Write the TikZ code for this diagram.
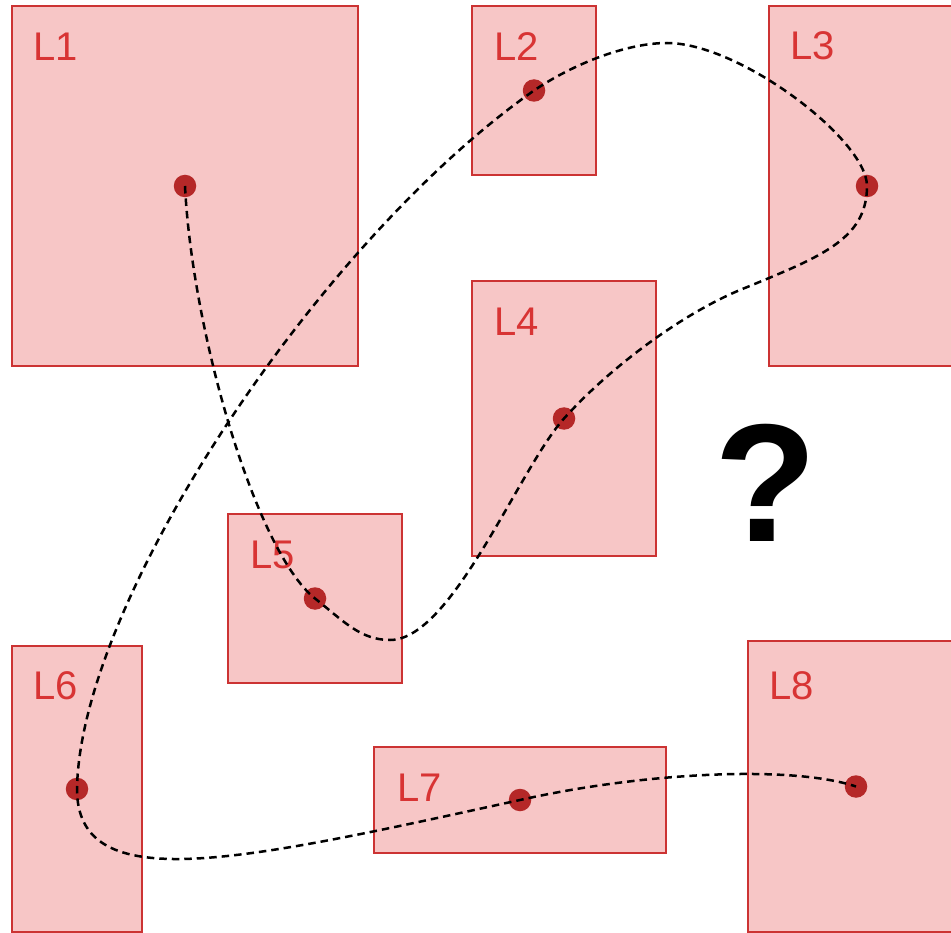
\documentclass[tikz,border=0pt]{standalone}
\usepackage{fontspec}
\setmainfont{Liberation Sans}
\definecolor{boxfill}{HTML}{F7C6C6}
\definecolor{boxline}{HTML}{CC3333}
\definecolor{labred}{HTML}{D83434}
\definecolor{dotred}{HTML}{B52828}
\begin{document}
\begin{tikzpicture}[x=1pt,y=-1pt,
  region/.style={draw=boxline, fill=boxfill, line width=1.9pt, inner sep=0pt, outer sep=0pt},
  lab/.style={anchor=base west, inner sep=0pt, text=labred, font=\fontsize{40}{40}\selectfont},
  pt/.style={circle, fill=dotred, inner sep=0pt, minimum size=22.5pt},
  route/.style={draw=black, line width=2.5pt, dash pattern=on 7.5pt off 5pt}]
\useasboundingbox (0,0) rectangle (951,933);
\clip (0,0) rectangle (951,933);
% regions
\node[region, minimum width=346pt, minimum height=360pt] (r1) at (185,186) {};
\node[region, minimum width=124pt, minimum height=169pt] (r2) at (534,90.5) {};
\node[region, minimum width=196pt, minimum height=360pt] (r3) at (867,186) {};
\node[region, minimum width=184pt, minimum height=275pt] (r4) at (564,418.5) {};
\node[region, minimum width=174pt, minimum height=169pt] (r5) at (315,598.5) {};
\node[region, minimum width=130pt, minimum height=286pt] (r6) at (77,789) {};
\node[region, minimum width=292pt, minimum height=106pt] (r7) at (520,800) {};
\node[region, minimum width=216pt, minimum height=291pt] (r8) at (856,786.5) {};
% labels
\node[lab] (t1) at ([shift={(21,55)}]r1.north west) {L1};
\node[lab] (t2) at ([shift={(22,55)}]r2.north west) {L2};
\node[lab] (t3) at ([shift={(21,54)}]r3.north west) {L3};
\node[lab] (t4) at ([shift={(22,55)}]r4.north west) {L4};
\node[lab] (t5) at ([shift={(22,54)}]r5.north west) {L5};
\node[lab] (t6) at ([shift={(21,53)}]r6.north west) {L6};
\node[lab] (t7) at ([shift={(23,54)}]r7.north west) {L7};
\node[lab] (t8) at ([shift={(21,58)}]r8.north west) {L8};
% dots
\node[pt] (d1) at (r1.center) {};
\node[pt] (d2) at (r2.center) {};
\node[pt] (d3) at (r3.center) {};
\node[pt] (d4) at (r4.center) {};
\node[pt] (d5) at (r5.center) {};
\node[pt] (d6) at (r6.center) {};
\node[pt] (d7) at (r7.center) {};
\node[pt] (d8) at (r8.center) {};
% waypoints
\coordinate (b1) at (390,640);
\coordinate (c1) at (740,290);
\coordinate (top) at (667,43);
% route
\draw[route] (d1.center)
  .. controls +(7,144) and +(-60,-48) .. (d5.center)
  .. controls +(28,22) and +(-30,0) .. (b1)
  .. controls +(62,0) and +(-45,50) .. (d4.center)
  .. controls +(45,-50) and +(-60,25) .. (c1)
  .. controls +(80,-33) and +(0,54) .. (d3.center)
  .. controls +(0,-46) and +(73,0) .. (top)
  .. controls +(-40,0) and +(40,-27) .. (d2.center)
  .. controls +(-214,150) and +(3,-189) .. (d6.center)
  .. controls +(0,110) and +(-280,61) .. (d7.center)
  .. controls +(120,-27) and +(-66,-22) .. (d8.center);
% question mark
\node[anchor=base, inner sep=0pt, font=\fontsize{168}{168}\selectfont\bfseries] (q) at (766,541) {?};
\end{tikzpicture}
\end{document}
